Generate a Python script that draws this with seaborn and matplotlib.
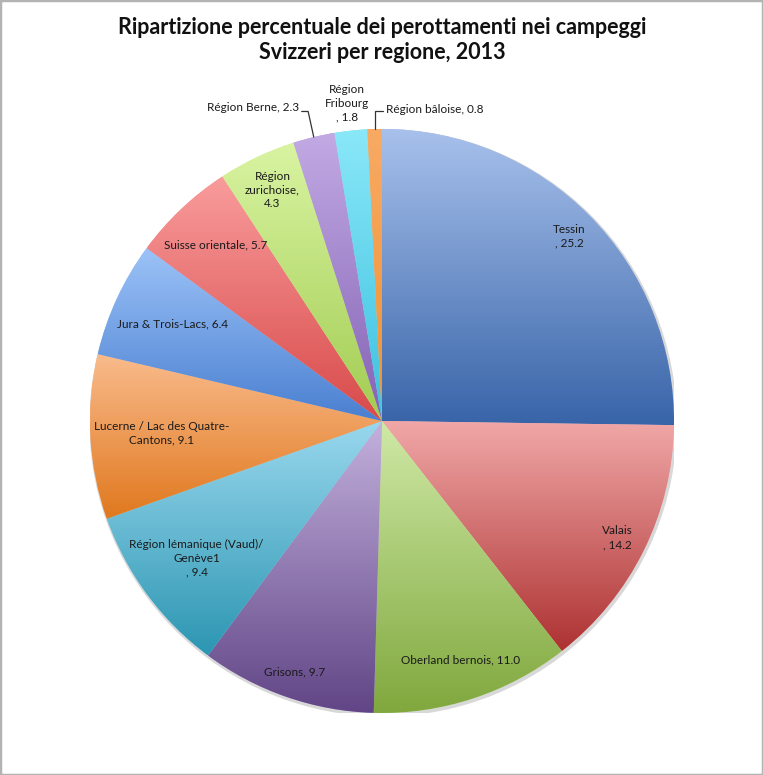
import numpy as np
import matplotlib
matplotlib.use("Agg")
import matplotlib.pyplot as plt
import matplotlib.colors as mcolors
from matplotlib.patches import Rectangle, Circle
import seaborn as sns

# ---------------- data ----------------
regions = ["Tessin", "Valais", "Oberland bernois", "Grisons",
           "Région lémanique (Vaud)/\nGenève1", "Lucerne / Lac des Quatre-\nCantons",
           "Jura & Trois-Lacs", "Suisse orientale", "Région\nzurichoise",
           "Région Berne", "Région\nFribourg", "Région bâloise"]
shares = [25.2, 14.2, 11.0, 9.7, 9.4, 9.1, 6.4, 5.7, 4.3, 2.3, 1.8, 0.8]
label_text = ["Tessin\n, 25.2", "Valais\n, 14.2", "Oberland bernois, 11.0", "Grisons, 9.7",
              "Région lémanique (Vaud)/\nGenève1\n, 9.4", "Lucerne / Lac des Quatre-\nCantons, 9.1",
              "Jura & Trois-Lacs, 6.4", "Suisse orientale, 5.7", "Région\nzurichoise,\n4.3",
              "Région Berne, 2.3", "Région\nFribourg\n, 1.8", "Région bâloise, 0.8"]
title = "Ripartizione percentuale dei perottamenti nei campeggi\nSvizzeri per regione, 2013"

# ---------------- style ----------------
grad_top = ["#a8c1ec", "#f1a8a8", "#cfe9a6", "#c3b1dd", "#9ad8ee", "#f9bb8c",
            "#9cc3f8", "#f99c9c", "#d9f4a2", "#c2aae4", "#8ae8f8", "#f8aa64"]
grad_bot = ["#3864a8", "#ae3232", "#80a83e", "#614586", "#2c96b2", "#e0781e",
            "#4a7fd0", "#d84a4a", "#a2cc52", "#8462b4", "#3cc0e0", "#f09232"]
label_r = [0.90, 0.90, 0.86, 0.91, 0.79, 0.755, 0.79, 0.83, 0.875, None, None, None]

sns.set_theme(style="white")
plt.rcParams["font.family"] = ["Lato", "DejaVu Sans"]

W, H = 763, 775
fig = plt.figure(figsize=(W / 100, H / 100), dpi=100)
cx, cy, R = 382, 421, 292
ax = fig.add_axes([(cx - R) / W, (H - cy - R) / H, 2 * R / W, 2 * R / H])
ax.set_xlim(-1, 1)
ax.set_ylim(-1, 1)
ax.set_aspect("equal")
ax.axis("off")

# soft shadow
ax.add_patch(Circle((0.004, -0.006), 1.006, facecolor="#d8d8d8", edgecolor="none", zorder=0))

wedges, _ = ax.pie(shares, startangle=90, counterclock=False, radius=1.0,
                   colors=grad_top, wedgeprops=dict(linewidth=0))

for i, w in enumerate(wedges):
    w.set_zorder(1)
    bb = w.get_path().get_extents()
    cmap = mcolors.LinearSegmentedColormap.from_list("g", [grad_bot[i], grad_top[i]])
    grad = np.linspace(0, 1, 256).reshape(-1, 1)
    im = ax.imshow(grad, cmap=cmap, origin="lower", aspect="auto",
                   extent=[bb.x0, bb.x1, bb.y0, bb.y1], zorder=2, interpolation="bilinear")
    im.set_clip_path(w)

ax.set_xlim(-1, 1)
ax.set_ylim(-1, 1)

# labels
fs = 8.5
for i, (w, s) in enumerate(zip(wedges, shares)):
    ang = np.deg2rad((w.theta1 + w.theta2) / 2)
    if label_r[i] is not None:
        r = label_r[i]
        ax.text(r * np.cos(ang), r * np.sin(ang), label_text[i], ha="center", va="center",
                fontsize=fs, color="#1a1a1a", zorder=5, linespacing=1.3)

# outside labels with leader lines
# Région Berne
i = 9
ang = np.deg2rad((wedges[i].theta1 + wedges[i].theta2) / 2)
ex, ey = np.cos(ang), np.sin(ang)
ax.text(-0.285, 1.075, label_text[i], ha="right", va="center", fontsize=fs, color="#1a1a1a", clip_on=False)
ax.plot([-0.275, -0.253, ex], [1.06, 1.06, ey], color="#333333", lw=0.9, clip_on=False, zorder=4)
# Région Fribourg
ax.text(-0.12, 1.089, label_text[10], ha="center", va="center", fontsize=fs, color="#1a1a1a",
        clip_on=False, linespacing=1.3)
# Région bâloise
i = 11
ang = np.deg2rad((wedges[i].theta1 + wedges[i].theta2) / 2)
ex, ey = np.cos(ang), np.sin(ang)
ax.text(0.012, 1.067, label_text[i], ha="left", va="center", fontsize=fs, color="#1a1a1a", clip_on=False)
ax.plot([0.004, ex, ex], [1.06, 1.06, ey], color="#333333", lw=0.9, clip_on=False, zorder=4)

fig.text(cx / W, 1 - 40 / H, title, ha="center", va="center", fontsize=15.5, fontweight="bold",
         color="#111111", linespacing=1.2)

fig.patches.append(Rectangle((0, 0), 1, 1, transform=fig.transFigure, fill=False,
                             edgecolor="#b3b3b3", linewidth=2.5))

fig.savefig("out.png", dpi=100)
